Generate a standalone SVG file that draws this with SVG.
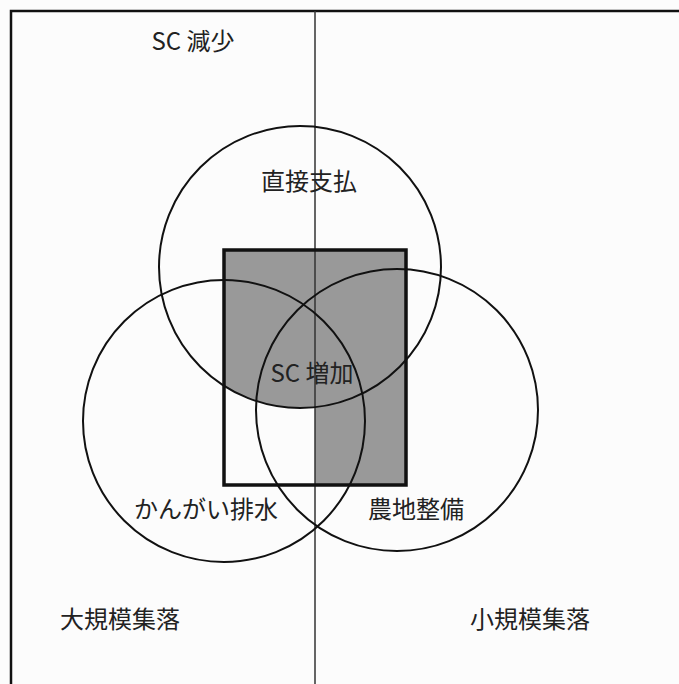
<svg xmlns="http://www.w3.org/2000/svg" width="679" height="684" viewBox="0 0 679 684">
<style>
.t{font-family:"Noto Sans CJK JP","Noto Sans",sans-serif;font-size:24px;fill:#222;text-anchor:middle}
.c{fill:none;stroke:#111;stroke-width:2}
.grey{fill:#999}
</style>
<defs>
<clipPath id="rc"><rect x="224" y="250" width="182" height="235"/></clipPath>
</defs>
<rect width="679" height="684" fill="#fcfcfc"/>
<g id="shading">
<rect class="grey" x="315" y="250" width="91" height="235"/>
<circle class="grey" cx="300" cy="267" r="141" clip-path="url(#rc)"/>
</g>
<g id="frame" fill="none" stroke="#111">
<path d="M11 684 V11 H679" stroke-width="2.5"/>
</g>
<g id="connectors">
<line x1="315" y1="11" x2="315" y2="684" stroke="#333" stroke-width="1.5"/>
</g>
<g id="rect-node"><rect x="224" y="250" width="182" height="235" fill="none" stroke="#111" stroke-width="3.5"/></g>
<g id="node-direct"><circle class="c" cx="300" cy="267" r="141"/><text class="t" x="309" y="190">直接支払</text></g>
<g id="node-irrigation"><circle class="c" cx="224" cy="421" r="141"/><text class="t" x="206" y="518">かんがい排水</text></g>
<g id="node-farmland"><circle class="c" cx="397" cy="410" r="141"/><text class="t" x="416" y="518">農地整備</text></g>
<g id="label-inc"><text class="t" x="312" y="382">SC 増加</text></g>
<g id="label-dec"><text class="t" x="193" y="50">SC 減少</text></g>
<g id="label-large"><text class="t" x="120" y="628">大規模集落</text></g>
<g id="label-small"><text class="t" x="530" y="628">小規模集落</text></g>
</svg>
